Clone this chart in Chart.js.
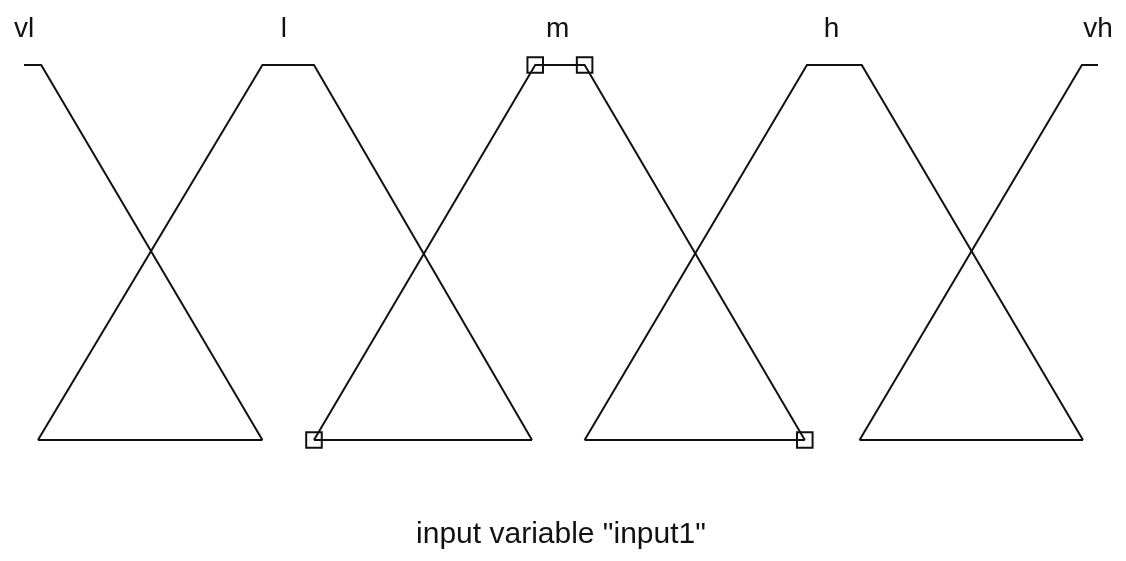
<!DOCTYPE html>
<html>
<head>
<meta charset="utf-8">
<script src="https://cdn.jsdelivr.net/npm/chart.js@4/dist/chart.umd.min.js"></script>
<style>
  html, body { margin: 0; padding: 0; background: #fff; }
  #wrap { width: 1126px; height: 561px; position: relative; }
</style>
</head>
<body>
<div id="wrap"><canvas id="c"></canvas></div>
<script>
// Membership function names and label positions (x in universe 0..1)
const mfNames = ["vl", "l", "m", "h", "vh"];
const mfLabelX = [0.0, 0.242, 0.497, 0.752, 1.0];

// Trapezoid break points (x) and membership values (y) for each function
const vlX = [0.0, 0.016, 0.222];
const vlY = [1, 1, 0];
const lX = [0.013, 0.222, 0.270, 0.473];
const lY = [0, 1, 1, 0];
const mX = [0.270, 0.476, 0.522, 0.727];
const mY = [0, 1, 1, 0];
const hX = [0.522, 0.729, 0.780, 0.986];
const hY = [0, 1, 1, 0];
const vhX = [0.778, 0.985, 1.0];
const vhY = [0, 1, 1];

// Visible zero-level base segments [start, end]
const baseStart = [0.013, 0.270, 0.522, 0.778];
const baseEnd = [0.222, 0.473, 0.727, 0.986];

const axisTitle = 'input variable "input1"';

function pts(xs, ys) { return xs.map((x, i) => ({ x: x, y: ys[i] })); }

const baseData = [];
baseStart.forEach((s, i) => {
  baseData.push({ x: s, y: 0 }, { x: baseEnd[i], y: 0 });
  if (i < baseStart.length - 1) baseData.push({ x: (baseEnd[i] + baseStart[i + 1]) / 2, y: null });
});

const lineStyle = {
  borderColor: '#111',
  borderWidth: 2,
  pointRadius: 0,
  tension: 0,
  fill: false,
  clip: false
};

const mfLabels = {
  id: 'mfLabels',
  afterDraw(chart) {
    const ctx = chart.ctx;
    const xs = chart.scales.x;
    const top = chart.chartArea.top;
    ctx.save();
    ctx.fillStyle = '#111';
    ctx.font = '28px "Liberation Sans", Arial, sans-serif';
    ctx.textAlign = 'center';
    ctx.textBaseline = 'alphabetic';
    mfNames.forEach((n, i) => {
      ctx.fillText(n, xs.getPixelForValue(mfLabelX[i]), top - 28);
    });
    ctx.restore();
  }
};

new Chart(document.getElementById('c'), {
  type: 'line',
  data: {
    datasets: [
      Object.assign({ label: 'vl', data: pts(vlX, vlY) }, lineStyle),
      Object.assign({ label: 'l', data: pts(lX, lY) }, lineStyle),
      Object.assign({ label: 'm', data: pts(mX, mY) }, lineStyle, {
        pointRadius: 11, pointStyle: 'rect', pointBorderColor: '#111',
        pointBackgroundColor: 'rgba(0,0,0,0)', pointBorderWidth: 2
      }),
      Object.assign({ label: 'h', data: pts(hX, hY) }, lineStyle),
      Object.assign({ label: 'vh', data: pts(vhX, vhY) }, lineStyle),
      Object.assign({ label: 'base', data: baseData, spanGaps: false }, lineStyle)
    ]
  },
  options: {
    responsive: true,
    maintainAspectRatio: false,
    animation: false,
    layout: { padding: { left: 24, right: 28, top: 65, bottom: 0 } },
    plugins: { legend: { display: false }, tooltip: { enabled: false } },
    scales: {
      x: {
        type: 'linear', min: 0, max: 1,
        grid: { display: false, drawTicks: false },
        border: { display: false },
        ticks: { display: false },
        title: {
          display: true, text: axisTitle, color: '#111',
          font: { family: '"Liberation Sans", Arial, sans-serif', size: 30, weight: 'normal' },
          padding: { top: 77, bottom: 8 }
        }
      },
      y: {
        type: 'linear', min: 0, max: 1, display: false
      }
    }
  },
  plugins: [mfLabels]
});
</script>
</body>
</html>
